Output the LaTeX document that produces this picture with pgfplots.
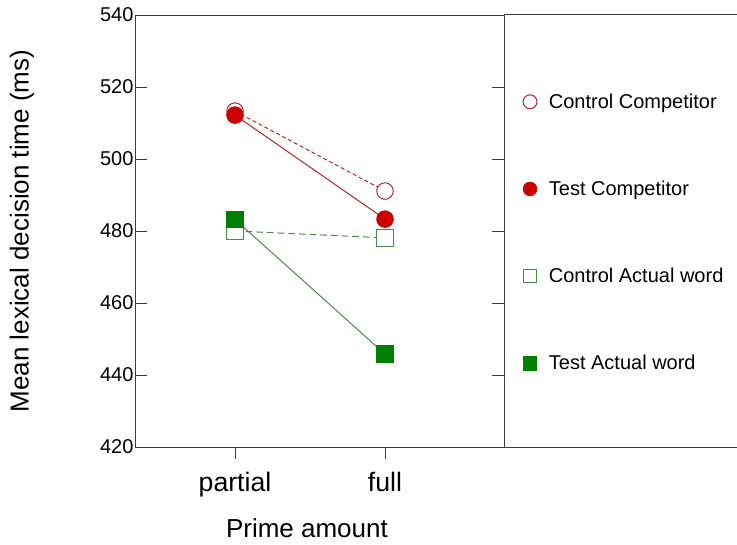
\documentclass[border=0pt]{standalone}
\usepackage{pgfplots}
\pgfplotsset{compat=1.18}
\usepackage{fontspec}
\setmainfont{Liberation Sans}
\definecolor{cred}{RGB}{204,0,0}
\definecolor{lred}{RGB}{175,40,40}
\definecolor{cgreen}{RGB}{0,128,0}
\definecolor{lgreen}{RGB}{70,140,70}
\definecolor{axisgray}{RGB}{60,60,60}
\begin{document}
\begin{tikzpicture}
\useasboundingbox (0,0) rectangle (552.75pt,408pt);
\begin{axis}[
  at={(101.25pt,72.75pt)}, anchor=south west,
  scale only axis, width=276.75pt, height=324pt,
  xmin=0.3333, xmax=2.7933, ymin=420, ymax=540,
  xtick={1,2}, xticklabels={partial,full},
  xtick pos=bottom, xtick align=outside,
  ytick={420,440,...,540}, ytick pos=both, ytick align=inside,
  major tick length=9pt,
  tick style={axisgray, line width=0.75pt},
  axis line style={axisgray, line width=0.75pt},
  /pgf/number format/assume math mode=true,
  yticklabel style={font=\fontsize{15}{18}\selectfont, inner sep=1pt, anchor=east},
  xticklabel style={font=\fontsize{20}{24}\selectfont, yshift=-6pt},
  label style={font=\fontsize{19.5}{23}\selectfont},
  xlabel={Prime amount},
  x label style={at={(axis description cs:0.466,-0.1875)}, anchor=center},
  ylabel={Mean lexical decision time (ms)},
  y label style={at={(axis description cs:-0.3062,0.5)}, anchor=center, rotate=0},
  legend style={at={(axis description cs:1.051,0.825)}, anchor=north west, draw=none, fill=none,
    font=\fontsize{15}{18}\selectfont, row sep=49pt, inner sep=0pt},
  legend cell align=left,
  legend image code/.code={\draw[#1] plot coordinates {(0.15cm,0cm)}; \path (0.57cm,0cm);},
]
\addlegendimage{only marks, mark=*, mark size=5.2pt, mark options={fill=white, draw=lred, line width=0.75pt}}
\addlegendentry{Control Competitor}
\addlegendimage{only marks, mark=*, mark size=5.2pt, mark options={fill=cred, draw=cred}}
\addlegendentry{Test Competitor}
\addlegendimage{only marks, mark=square*, mark size=5pt, mark options={fill=white, draw=lgreen, line width=0.75pt}}
\addlegendentry{Control Actual word}
\addlegendimage{only marks, mark=square*, mark size=5pt, mark options={fill=cgreen, draw=cgreen}}
\addlegendentry{Test Actual word}

\addplot[forget plot, lred, line width=0.75pt, dash pattern=on 3pt off 2pt, mark=*, mark size=6.2pt,
  mark options={solid, fill=white, draw=lred, line width=0.75pt}]
  coordinates {(1,513.3) (2,491.1)};
\addplot[forget plot, lgreen, line width=0.75pt, dash pattern=on 5pt off 3pt, mark=square*, mark size=6.2pt,
  mark options={solid, fill=white, draw=lgreen, line width=0.75pt}]
  coordinates {(1,480.0) (2,478.1)};
\addplot[forget plot, lred, line width=0.75pt, mark=*, mark size=6.2pt,
  mark options={solid, fill=cred, draw=cred}]
  coordinates {(1,512.2) (2,483.3)};
\addplot[forget plot, lgreen, line width=0.75pt, mark=square*, mark size=6.2pt,
  mark options={solid, fill=cgreen, draw=cgreen}]
  coordinates {(1,483.2) (2,445.8)};
\end{axis}
\draw[axisgray, line width=0.75pt] (current axis.north east) -- ++(174.75pt,0);
\draw[axisgray, line width=0.75pt] (current axis.south east) -- ++(174.75pt,0);
\end{tikzpicture}
\end{document}
